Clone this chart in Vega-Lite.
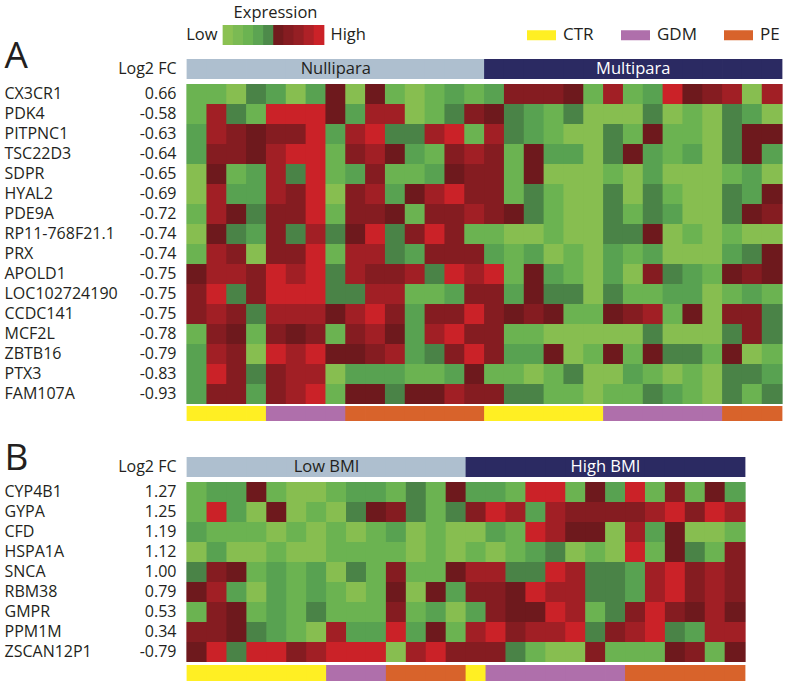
{
"$schema": "https://vega.github.io/schema/vega-lite/v6.json",
"background": "white",
"padding": {"left": 4, "top": 4, "right": 0, "bottom": 0},
"bounds": "flush",
"spacing": 0,
"resolve": {"scale": {"color": "independent"}},
"config": {"view": {"stroke": null}, "axis": {"grid": false}, "font": "Open Sans"},
"datasets": {
"lvl": [{"v":1},{"v":2},{"v":3},{"v":4},{"v":5},{"v":6},{"v":7},{"v":8},{"v":9},{"v":10}],
"colsA": [
{"c":0,"grp":"CTR","par":"Nullipara"},{"c":1,"grp":"CTR","par":"Nullipara"},{"c":2,"grp":"CTR","par":"Nullipara"},{"c":3,"grp":"CTR","par":"Nullipara"},
{"c":4,"grp":"GDM","par":"Nullipara"},{"c":5,"grp":"GDM","par":"Nullipara"},{"c":6,"grp":"GDM","par":"Nullipara"},{"c":7,"grp":"GDM","par":"Nullipara"},
{"c":8,"grp":"PE","par":"Nullipara"},{"c":9,"grp":"PE","par":"Nullipara"},{"c":10,"grp":"PE","par":"Nullipara"},{"c":11,"grp":"PE","par":"Nullipara"},{"c":12,"grp":"PE","par":"Nullipara"},{"c":13,"grp":"PE","par":"Nullipara"},{"c":14,"grp":"PE","par":"Nullipara"},
{"c":15,"grp":"CTR","par":"Multipara"},{"c":16,"grp":"CTR","par":"Multipara"},{"c":17,"grp":"CTR","par":"Multipara"},{"c":18,"grp":"CTR","par":"Multipara"},{"c":19,"grp":"CTR","par":"Multipara"},{"c":20,"grp":"CTR","par":"Multipara"},
{"c":21,"grp":"GDM","par":"Multipara"},{"c":22,"grp":"GDM","par":"Multipara"},{"c":23,"grp":"GDM","par":"Multipara"},{"c":24,"grp":"GDM","par":"Multipara"},{"c":25,"grp":"GDM","par":"Multipara"},{"c":26,"grp":"GDM","par":"Multipara"},
{"c":27,"grp":"PE","par":"Multipara"},{"c":28,"grp":"PE","par":"Multipara"},{"c":29,"grp":"PE","par":"Multipara"}],
"colsB": [
{"c":0,"grp":"CTR","par":"Low BMI"},{"c":1,"grp":"CTR","par":"Low BMI"},{"c":2,"grp":"CTR","par":"Low BMI"},{"c":3,"grp":"CTR","par":"Low BMI"},{"c":4,"grp":"CTR","par":"Low BMI"},{"c":5,"grp":"CTR","par":"Low BMI"},{"c":6,"grp":"CTR","par":"Low BMI"},
{"c":7,"grp":"GDM","par":"Low BMI"},{"c":8,"grp":"GDM","par":"Low BMI"},{"c":9,"grp":"GDM","par":"Low BMI"},
{"c":10,"grp":"PE","par":"Low BMI"},{"c":11,"grp":"PE","par":"Low BMI"},{"c":12,"grp":"PE","par":"Low BMI"},{"c":13,"grp":"PE","par":"Low BMI"},
{"c":14,"grp":"CTR","par":"High BMI"},
{"c":15,"grp":"GDM","par":"High BMI"},{"c":16,"grp":"GDM","par":"High BMI"},{"c":17,"grp":"GDM","par":"High BMI"},{"c":18,"grp":"GDM","par":"High BMI"},{"c":19,"grp":"GDM","par":"High BMI"},{"c":20,"grp":"GDM","par":"High BMI"},{"c":21,"grp":"GDM","par":"High BMI"},
{"c":22,"grp":"PE","par":"High BMI"},{"c":23,"grp":"PE","par":"High BMI"},{"c":24,"grp":"PE","par":"High BMI"},{"c":25,"grp":"PE","par":"High BMI"},{"c":26,"grp":"PE","par":"High BMI"},{"c":27,"grp":"PE","par":"High BMI"}],
"cellsA": [
{"k":"CX3CR1|0.66","c":0,"v":2},{"k":"CX3CR1|0.66","c":1,"v":2},{"k":"CX3CR1|0.66","c":2,"v":1},{"k":"CX3CR1|0.66","c":3,"v":4},{"k":"CX3CR1|0.66","c":4,"v":3},{"k":"CX3CR1|0.66","c":5,"v":1},{"k":"CX3CR1|0.66","c":6,"v":3},{"k":"CX3CR1|0.66","c":7,"v":5},{"k":"CX3CR1|0.66","c":8,"v":1},{"k":"CX3CR1|0.66","c":9,"v":5},{"k":"CX3CR1|0.66","c":10,"v":2},{"k":"CX3CR1|0.66","c":11,"v":1},{"k":"CX3CR1|0.66","c":12,"v":2},{"k":"CX3CR1|0.66","c":13,"v":3},{"k":"CX3CR1|0.66","c":14,"v":2},{"k":"CX3CR1|0.66","c":15,"v":3},{"k":"CX3CR1|0.66","c":16,"v":6},{"k":"CX3CR1|0.66","c":17,"v":6},{"k":"CX3CR1|0.66","c":18,"v":6},{"k":"CX3CR1|0.66","c":19,"v":5},{"k":"CX3CR1|0.66","c":20,"v":2},{"k":"CX3CR1|0.66","c":21,"v":7},{"k":"CX3CR1|0.66","c":22,"v":2},{"k":"CX3CR1|0.66","c":23,"v":3},{"k":"CX3CR1|0.66","c":24,"v":8},{"k":"CX3CR1|0.66","c":25,"v":5},{"k":"CX3CR1|0.66","c":26,"v":6},{"k":"CX3CR1|0.66","c":27,"v":7},{"k":"CX3CR1|0.66","c":28,"v":1},{"k":"CX3CR1|0.66","c":29,"v":7},
{"k":"PDK4|-0.58","c":0,"v":2},{"k":"PDK4|-0.58","c":1,"v":7},{"k":"PDK4|-0.58","c":2,"v":4},{"k":"PDK4|-0.58","c":3,"v":2},{"k":"PDK4|-0.58","c":4,"v":8},{"k":"PDK4|-0.58","c":5,"v":8},{"k":"PDK4|-0.58","c":6,"v":8},{"k":"PDK4|-0.58","c":7,"v":5},{"k":"PDK4|-0.58","c":8,"v":3},{"k":"PDK4|-0.58","c":9,"v":7},{"k":"PDK4|-0.58","c":10,"v":7},{"k":"PDK4|-0.58","c":11,"v":1},{"k":"PDK4|-0.58","c":12,"v":2},{"k":"PDK4|-0.58","c":13,"v":4},{"k":"PDK4|-0.58","c":14,"v":6},{"k":"PDK4|-0.58","c":15,"v":5},{"k":"PDK4|-0.58","c":16,"v":4},{"k":"PDK4|-0.58","c":17,"v":3},{"k":"PDK4|-0.58","c":18,"v":2},{"k":"PDK4|-0.58","c":19,"v":4},{"k":"PDK4|-0.58","c":20,"v":1},{"k":"PDK4|-0.58","c":21,"v":1},{"k":"PDK4|-0.58","c":22,"v":1},{"k":"PDK4|-0.58","c":23,"v":4},{"k":"PDK4|-0.58","c":24,"v":1},{"k":"PDK4|-0.58","c":25,"v":2},{"k":"PDK4|-0.58","c":26,"v":1},{"k":"PDK4|-0.58","c":27,"v":4},{"k":"PDK4|-0.58","c":28,"v":3},{"k":"PDK4|-0.58","c":29,"v":1},
{"k":"PITPNC1|-0.63","c":0,"v":3},{"k":"PITPNC1|-0.63","c":1,"v":7},{"k":"PITPNC1|-0.63","c":2,"v":6},{"k":"PITPNC1|-0.63","c":3,"v":5},{"k":"PITPNC1|-0.63","c":4,"v":6},{"k":"PITPNC1|-0.63","c":5,"v":6},{"k":"PITPNC1|-0.63","c":6,"v":8},{"k":"PITPNC1|-0.63","c":7,"v":3},{"k":"PITPNC1|-0.63","c":8,"v":7},{"k":"PITPNC1|-0.63","c":9,"v":8},{"k":"PITPNC1|-0.63","c":10,"v":4},{"k":"PITPNC1|-0.63","c":11,"v":4},{"k":"PITPNC1|-0.63","c":12,"v":7},{"k":"PITPNC1|-0.63","c":13,"v":8},{"k":"PITPNC1|-0.63","c":14,"v":2},{"k":"PITPNC1|-0.63","c":15,"v":7},{"k":"PITPNC1|-0.63","c":16,"v":4},{"k":"PITPNC1|-0.63","c":17,"v":3},{"k":"PITPNC1|-0.63","c":18,"v":2},{"k":"PITPNC1|-0.63","c":19,"v":1},{"k":"PITPNC1|-0.63","c":20,"v":1},{"k":"PITPNC1|-0.63","c":21,"v":4},{"k":"PITPNC1|-0.63","c":22,"v":2},{"k":"PITPNC1|-0.63","c":23,"v":5},{"k":"PITPNC1|-0.63","c":24,"v":2},{"k":"PITPNC1|-0.63","c":25,"v":2},{"k":"PITPNC1|-0.63","c":26,"v":1},{"k":"PITPNC1|-0.63","c":27,"v":4},{"k":"PITPNC1|-0.63","c":28,"v":5},{"k":"PITPNC1|-0.63","c":29,"v":5},
{"k":"TSC22D3|-0.64","c":0,"v":3},{"k":"TSC22D3|-0.64","c":1,"v":6},{"k":"TSC22D3|-0.64","c":2,"v":6},{"k":"TSC22D3|-0.64","c":3,"v":5},{"k":"TSC22D3|-0.64","c":4,"v":7},{"k":"TSC22D3|-0.64","c":5,"v":8},{"k":"TSC22D3|-0.64","c":6,"v":8},{"k":"TSC22D3|-0.64","c":7,"v":2},{"k":"TSC22D3|-0.64","c":8,"v":6},{"k":"TSC22D3|-0.64","c":9,"v":7},{"k":"TSC22D3|-0.64","c":10,"v":5},{"k":"TSC22D3|-0.64","c":11,"v":3},{"k":"TSC22D3|-0.64","c":12,"v":2},{"k":"TSC22D3|-0.64","c":13,"v":6},{"k":"TSC22D3|-0.64","c":14,"v":7},{"k":"TSC22D3|-0.64","c":15,"v":6},{"k":"TSC22D3|-0.64","c":16,"v":2},{"k":"TSC22D3|-0.64","c":17,"v":5},{"k":"TSC22D3|-0.64","c":18,"v":3},{"k":"TSC22D3|-0.64","c":19,"v":3},{"k":"TSC22D3|-0.64","c":20,"v":1},{"k":"TSC22D3|-0.64","c":21,"v":4},{"k":"TSC22D3|-0.64","c":22,"v":5},{"k":"TSC22D3|-0.64","c":23,"v":3},{"k":"TSC22D3|-0.64","c":24,"v":2},{"k":"TSC22D3|-0.64","c":25,"v":3},{"k":"TSC22D3|-0.64","c":26,"v":1},{"k":"TSC22D3|-0.64","c":27,"v":4},{"k":"TSC22D3|-0.64","c":28,"v":5},{"k":"TSC22D3|-0.64","c":29,"v":3},
{"k":"SDPR|-0.65","c":0,"v":1},{"k":"SDPR|-0.65","c":1,"v":5},{"k":"SDPR|-0.65","c":2,"v":2},{"k":"SDPR|-0.65","c":3,"v":3},{"k":"SDPR|-0.65","c":4,"v":7},{"k":"SDPR|-0.65","c":5,"v":4},{"k":"SDPR|-0.65","c":6,"v":8},{"k":"SDPR|-0.65","c":7,"v":2},{"k":"SDPR|-0.65","c":8,"v":3},{"k":"SDPR|-0.65","c":9,"v":6},{"k":"SDPR|-0.65","c":10,"v":2},{"k":"SDPR|-0.65","c":11,"v":2},{"k":"SDPR|-0.65","c":12,"v":3},{"k":"SDPR|-0.65","c":13,"v":5},{"k":"SDPR|-0.65","c":14,"v":6},{"k":"SDPR|-0.65","c":15,"v":6},{"k":"SDPR|-0.65","c":16,"v":2},{"k":"SDPR|-0.65","c":17,"v":5},{"k":"SDPR|-0.65","c":18,"v":1},{"k":"SDPR|-0.65","c":19,"v":1},{"k":"SDPR|-0.65","c":20,"v":1},{"k":"SDPR|-0.65","c":21,"v":2},{"k":"SDPR|-0.65","c":22,"v":1},{"k":"SDPR|-0.65","c":23,"v":3},{"k":"SDPR|-0.65","c":24,"v":1},{"k":"SDPR|-0.65","c":25,"v":1},{"k":"SDPR|-0.65","c":26,"v":1},{"k":"SDPR|-0.65","c":27,"v":2},{"k":"SDPR|-0.65","c":28,"v":3},{"k":"SDPR|-0.65","c":29,"v":1},
{"k":"HYAL2|-0.69","c":0,"v":1},{"k":"HYAL2|-0.69","c":1,"v":7},{"k":"HYAL2|-0.69","c":2,"v":3},{"k":"HYAL2|-0.69","c":3,"v":3},{"k":"HYAL2|-0.69","c":4,"v":7},{"k":"HYAL2|-0.69","c":5,"v":6},{"k":"HYAL2|-0.69","c":6,"v":8},{"k":"HYAL2|-0.69","c":7,"v":1},{"k":"HYAL2|-0.69","c":8,"v":6},{"k":"HYAL2|-0.69","c":9,"v":7},{"k":"HYAL2|-0.69","c":10,"v":3},{"k":"HYAL2|-0.69","c":11,"v":5},{"k":"HYAL2|-0.69","c":12,"v":7},{"k":"HYAL2|-0.69","c":13,"v":8},{"k":"HYAL2|-0.69","c":14,"v":6},{"k":"HYAL2|-0.69","c":15,"v":6},{"k":"HYAL2|-0.69","c":16,"v":2},{"k":"HYAL2|-0.69","c":17,"v":4},{"k":"HYAL2|-0.69","c":18,"v":2},{"k":"HYAL2|-0.69","c":19,"v":1},{"k":"HYAL2|-0.69","c":20,"v":1},{"k":"HYAL2|-0.69","c":21,"v":4},{"k":"HYAL2|-0.69","c":22,"v":1},{"k":"HYAL2|-0.69","c":23,"v":4},{"k":"HYAL2|-0.69","c":24,"v":2},{"k":"HYAL2|-0.69","c":25,"v":1},{"k":"HYAL2|-0.69","c":26,"v":1},{"k":"HYAL2|-0.69","c":27,"v":4},{"k":"HYAL2|-0.69","c":28,"v":3},{"k":"HYAL2|-0.69","c":29,"v":5},
{"k":"PDE9A|-0.72","c":0,"v":2},{"k":"PDE9A|-0.72","c":1,"v":7},{"k":"PDE9A|-0.72","c":2,"v":5},{"k":"PDE9A|-0.72","c":3,"v":4},{"k":"PDE9A|-0.72","c":4,"v":6},{"k":"PDE9A|-0.72","c":5,"v":6},{"k":"PDE9A|-0.72","c":6,"v":8},{"k":"PDE9A|-0.72","c":7,"v":2},{"k":"PDE9A|-0.72","c":8,"v":6},{"k":"PDE9A|-0.72","c":9,"v":6},{"k":"PDE9A|-0.72","c":10,"v":5},{"k":"PDE9A|-0.72","c":11,"v":2},{"k":"PDE9A|-0.72","c":12,"v":6},{"k":"PDE9A|-0.72","c":13,"v":6},{"k":"PDE9A|-0.72","c":14,"v":7},{"k":"PDE9A|-0.72","c":15,"v":6},{"k":"PDE9A|-0.72","c":16,"v":5},{"k":"PDE9A|-0.72","c":17,"v":4},{"k":"PDE9A|-0.72","c":18,"v":2},{"k":"PDE9A|-0.72","c":19,"v":1},{"k":"PDE9A|-0.72","c":20,"v":1},{"k":"PDE9A|-0.72","c":21,"v":4},{"k":"PDE9A|-0.72","c":22,"v":2},{"k":"PDE9A|-0.72","c":23,"v":4},{"k":"PDE9A|-0.72","c":24,"v":3},{"k":"PDE9A|-0.72","c":25,"v":1},{"k":"PDE9A|-0.72","c":26,"v":1},{"k":"PDE9A|-0.72","c":27,"v":4},{"k":"PDE9A|-0.72","c":28,"v":5},{"k":"PDE9A|-0.72","c":29,"v":6},
{"k":"RP11-768F21.1|-0.74","c":0,"v":1},{"k":"RP11-768F21.1|-0.74","c":1,"v":5},{"k":"RP11-768F21.1|-0.74","c":2,"v":4},{"k":"RP11-768F21.1|-0.74","c":3,"v":3},{"k":"RP11-768F21.1|-0.74","c":4,"v":6},{"k":"RP11-768F21.1|-0.74","c":5,"v":4},{"k":"RP11-768F21.1|-0.74","c":6,"v":7},{"k":"RP11-768F21.1|-0.74","c":7,"v":4},{"k":"RP11-768F21.1|-0.74","c":8,"v":5},{"k":"RP11-768F21.1|-0.74","c":9,"v":8},{"k":"RP11-768F21.1|-0.74","c":10,"v":4},{"k":"RP11-768F21.1|-0.74","c":11,"v":6},{"k":"RP11-768F21.1|-0.74","c":12,"v":8},{"k":"RP11-768F21.1|-0.74","c":13,"v":6},{"k":"RP11-768F21.1|-0.74","c":14,"v":2},{"k":"RP11-768F21.1|-0.74","c":15,"v":2},{"k":"RP11-768F21.1|-0.74","c":16,"v":1},{"k":"RP11-768F21.1|-0.74","c":17,"v":1},{"k":"RP11-768F21.1|-0.74","c":18,"v":2},{"k":"RP11-768F21.1|-0.74","c":19,"v":1},{"k":"RP11-768F21.1|-0.74","c":20,"v":1},{"k":"RP11-768F21.1|-0.74","c":21,"v":4},{"k":"RP11-768F21.1|-0.74","c":22,"v":4},{"k":"RP11-768F21.1|-0.74","c":23,"v":5},{"k":"RP11-768F21.1|-0.74","c":24,"v":1},{"k":"RP11-768F21.1|-0.74","c":25,"v":2},{"k":"RP11-768F21.1|-0.74","c":26,"v":1},{"k":"RP11-768F21.1|-0.74","c":27,"v":2},{"k":"RP11-768F21.1|-0.74","c":28,"v":1},{"k":"RP11-768F21.1|-0.74","c":29,"v":1},
{"k":"PRX|-0.74","c":0,"v":2},{"k":"PRX|-0.74","c":1,"v":7},{"k":"PRX|-0.74","c":2,"v":6},{"k":"PRX|-0.74","c":3,"v":1},{"k":"PRX|-0.74","c":4,"v":6},{"k":"PRX|-0.74","c":5,"v":6},{"k":"PRX|-0.74","c":6,"v":8},{"k":"PRX|-0.74","c":7,"v":2},{"k":"PRX|-0.74","c":8,"v":7},{"k":"PRX|-0.74","c":9,"v":7},{"k":"PRX|-0.74","c":10,"v":4},{"k":"PRX|-0.74","c":11,"v":3},{"k":"PRX|-0.74","c":12,"v":6},{"k":"PRX|-0.74","c":13,"v":6},{"k":"PRX|-0.74","c":14,"v":6},{"k":"PRX|-0.74","c":15,"v":3},{"k":"PRX|-0.74","c":16,"v":2},{"k":"PRX|-0.74","c":17,"v":3},{"k":"PRX|-0.74","c":18,"v":1},{"k":"PRX|-0.74","c":19,"v":2},{"k":"PRX|-0.74","c":20,"v":1},{"k":"PRX|-0.74","c":21,"v":3},{"k":"PRX|-0.74","c":22,"v":2},{"k":"PRX|-0.74","c":23,"v":3},{"k":"PRX|-0.74","c":24,"v":1},{"k":"PRX|-0.74","c":25,"v":1},{"k":"PRX|-0.74","c":26,"v":1},{"k":"PRX|-0.74","c":27,"v":3},{"k":"PRX|-0.74","c":28,"v":4},{"k":"PRX|-0.74","c":29,"v":5},
{"k":"APOLD1|-0.75","c":0,"v":5},{"k":"APOLD1|-0.75","c":1,"v":7},{"k":"APOLD1|-0.75","c":2,"v":7},{"k":"APOLD1|-0.75","c":3,"v":6},{"k":"APOLD1|-0.75","c":4,"v":8},{"k":"APOLD1|-0.75","c":5,"v":7},{"k":"APOLD1|-0.75","c":6,"v":8},{"k":"APOLD1|-0.75","c":7,"v":4},{"k":"APOLD1|-0.75","c":8,"v":7},{"k":"APOLD1|-0.75","c":9,"v":6},{"k":"APOLD1|-0.75","c":10,"v":6},{"k":"APOLD1|-0.75","c":11,"v":7},{"k":"APOLD1|-0.75","c":12,"v":4},{"k":"APOLD1|-0.75","c":13,"v":8},{"k":"APOLD1|-0.75","c":14,"v":7},{"k":"APOLD1|-0.75","c":15,"v":8},{"k":"APOLD1|-0.75","c":16,"v":2},{"k":"APOLD1|-0.75","c":17,"v":5},{"k":"APOLD1|-0.75","c":18,"v":3},{"k":"APOLD1|-0.75","c":19,"v":2},{"k":"APOLD1|-0.75","c":20,"v":1},{"k":"APOLD1|-0.75","c":21,"v":3},{"k":"APOLD1|-0.75","c":22,"v":1},{"k":"APOLD1|-0.75","c":23,"v":6},{"k":"APOLD1|-0.75","c":24,"v":4},{"k":"APOLD1|-0.75","c":25,"v":3},{"k":"APOLD1|-0.75","c":26,"v":2},{"k":"APOLD1|-0.75","c":27,"v":5},{"k":"APOLD1|-0.75","c":28,"v":6},{"k":"APOLD1|-0.75","c":29,"v":5},
{"k":"LOC102724190|-0.75","c":0,"v":6},{"k":"LOC102724190|-0.75","c":1,"v":8},{"k":"LOC102724190|-0.75","c":2,"v":4},{"k":"LOC102724190|-0.75","c":3,"v":6},{"k":"LOC102724190|-0.75","c":4,"v":8},{"k":"LOC102724190|-0.75","c":5,"v":8},{"k":"LOC102724190|-0.75","c":6,"v":8},{"k":"LOC102724190|-0.75","c":7,"v":4},{"k":"LOC102724190|-0.75","c":8,"v":4},{"k":"LOC102724190|-0.75","c":9,"v":7},{"k":"LOC102724190|-0.75","c":10,"v":7},{"k":"LOC102724190|-0.75","c":11,"v":2},{"k":"LOC102724190|-0.75","c":12,"v":2},{"k":"LOC102724190|-0.75","c":13,"v":3},{"k":"LOC102724190|-0.75","c":14,"v":6},{"k":"LOC102724190|-0.75","c":15,"v":6},{"k":"LOC102724190|-0.75","c":16,"v":3},{"k":"LOC102724190|-0.75","c":17,"v":5},{"k":"LOC102724190|-0.75","c":18,"v":4},{"k":"LOC102724190|-0.75","c":19,"v":4},{"k":"LOC102724190|-0.75","c":20,"v":1},{"k":"LOC102724190|-0.75","c":21,"v":4},{"k":"LOC102724190|-0.75","c":22,"v":2},{"k":"LOC102724190|-0.75","c":23,"v":2},{"k":"LOC102724190|-0.75","c":24,"v":3},{"k":"LOC102724190|-0.75","c":25,"v":3},{"k":"LOC102724190|-0.75","c":26,"v":1},{"k":"LOC102724190|-0.75","c":27,"v":2},{"k":"LOC102724190|-0.75","c":28,"v":3},{"k":"LOC102724190|-0.75","c":29,"v":2},
{"k":"CCDC141|-0.75","c":0,"v":6},{"k":"CCDC141|-0.75","c":1,"v":7},{"k":"CCDC141|-0.75","c":2,"v":6},{"k":"CCDC141|-0.75","c":3,"v":4},{"k":"CCDC141|-0.75","c":4,"v":7},{"k":"CCDC141|-0.75","c":5,"v":7},{"k":"CCDC141|-0.75","c":6,"v":7},{"k":"CCDC141|-0.75","c":7,"v":5},{"k":"CCDC141|-0.75","c":8,"v":7},{"k":"CCDC141|-0.75","c":9,"v":8},{"k":"CCDC141|-0.75","c":10,"v":6},{"k":"CCDC141|-0.75","c":11,"v":3},{"k":"CCDC141|-0.75","c":12,"v":6},{"k":"CCDC141|-0.75","c":13,"v":6},{"k":"CCDC141|-0.75","c":14,"v":8},{"k":"CCDC141|-0.75","c":15,"v":6},{"k":"CCDC141|-0.75","c":16,"v":5},{"k":"CCDC141|-0.75","c":17,"v":6},{"k":"CCDC141|-0.75","c":18,"v":5},{"k":"CCDC141|-0.75","c":19,"v":2},{"k":"CCDC141|-0.75","c":20,"v":2},{"k":"CCDC141|-0.75","c":21,"v":5},{"k":"CCDC141|-0.75","c":22,"v":6},{"k":"CCDC141|-0.75","c":23,"v":7},{"k":"CCDC141|-0.75","c":24,"v":2},{"k":"CCDC141|-0.75","c":25,"v":5},{"k":"CCDC141|-0.75","c":26,"v":1},{"k":"CCDC141|-0.75","c":27,"v":6},{"k":"CCDC141|-0.75","c":28,"v":6},{"k":"CCDC141|-0.75","c":29,"v":4},
{"k":"MCF2L|-0.78","c":0,"v":2},{"k":"MCF2L|-0.78","c":1,"v":6},{"k":"MCF2L|-0.78","c":2,"v":5},{"k":"MCF2L|-0.78","c":3,"v":2},{"k":"MCF2L|-0.78","c":4,"v":6},{"k":"MCF2L|-0.78","c":5,"v":5},{"k":"MCF2L|-0.78","c":6,"v":6},{"k":"MCF2L|-0.78","c":7,"v":2},{"k":"MCF2L|-0.78","c":8,"v":6},{"k":"MCF2L|-0.78","c":9,"v":7},{"k":"MCF2L|-0.78","c":10,"v":5},{"k":"MCF2L|-0.78","c":11,"v":3},{"k":"MCF2L|-0.78","c":12,"v":7},{"k":"MCF2L|-0.78","c":13,"v":8},{"k":"MCF2L|-0.78","c":14,"v":6},{"k":"MCF2L|-0.78","c":15,"v":6},{"k":"MCF2L|-0.78","c":16,"v":2},{"k":"MCF2L|-0.78","c":17,"v":2},{"k":"MCF2L|-0.78","c":18,"v":1},{"k":"MCF2L|-0.78","c":19,"v":1},{"k":"MCF2L|-0.78","c":20,"v":1},{"k":"MCF2L|-0.78","c":21,"v":1},{"k":"MCF2L|-0.78","c":22,"v":1},{"k":"MCF2L|-0.78","c":23,"v":4},{"k":"MCF2L|-0.78","c":24,"v":1},{"k":"MCF2L|-0.78","c":25,"v":1},{"k":"MCF2L|-0.78","c":26,"v":1},{"k":"MCF2L|-0.78","c":27,"v":4},{"k":"MCF2L|-0.78","c":28,"v":6},{"k":"MCF2L|-0.78","c":29,"v":4},
{"k":"ZBTB16|-0.79","c":0,"v":3},{"k":"ZBTB16|-0.79","c":1,"v":7},{"k":"ZBTB16|-0.79","c":2,"v":6},{"k":"ZBTB16|-0.79","c":3,"v":1},{"k":"ZBTB16|-0.79","c":4,"v":8},{"k":"ZBTB16|-0.79","c":5,"v":7},{"k":"ZBTB16|-0.79","c":6,"v":8},{"k":"ZBTB16|-0.79","c":7,"v":5},{"k":"ZBTB16|-0.79","c":8,"v":5},{"k":"ZBTB16|-0.79","c":9,"v":6},{"k":"ZBTB16|-0.79","c":10,"v":7},{"k":"ZBTB16|-0.79","c":11,"v":3},{"k":"ZBTB16|-0.79","c":12,"v":4},{"k":"ZBTB16|-0.79","c":13,"v":6},{"k":"ZBTB16|-0.79","c":14,"v":8},{"k":"ZBTB16|-0.79","c":15,"v":6},{"k":"ZBTB16|-0.79","c":16,"v":3},{"k":"ZBTB16|-0.79","c":17,"v":3},{"k":"ZBTB16|-0.79","c":18,"v":5},{"k":"ZBTB16|-0.79","c":19,"v":1},{"k":"ZBTB16|-0.79","c":20,"v":2},{"k":"ZBTB16|-0.79","c":21,"v":5},{"k":"ZBTB16|-0.79","c":22,"v":2},{"k":"ZBTB16|-0.79","c":23,"v":5},{"k":"ZBTB16|-0.79","c":24,"v":4},{"k":"ZBTB16|-0.79","c":25,"v":4},{"k":"ZBTB16|-0.79","c":26,"v":2},{"k":"ZBTB16|-0.79","c":27,"v":5},{"k":"ZBTB16|-0.79","c":28,"v":1},{"k":"ZBTB16|-0.79","c":29,"v":2},
{"k":"PTX3|-0.83","c":0,"v":3},{"k":"PTX3|-0.83","c":1,"v":8},{"k":"PTX3|-0.83","c":2,"v":6},{"k":"PTX3|-0.83","c":3,"v":4},{"k":"PTX3|-0.83","c":4,"v":6},{"k":"PTX3|-0.83","c":5,"v":7},{"k":"PTX3|-0.83","c":6,"v":7},{"k":"PTX3|-0.83","c":7,"v":1},{"k":"PTX3|-0.83","c":8,"v":3},{"k":"PTX3|-0.83","c":9,"v":3},{"k":"PTX3|-0.83","c":10,"v":3},{"k":"PTX3|-0.83","c":11,"v":2},{"k":"PTX3|-0.83","c":12,"v":2},{"k":"PTX3|-0.83","c":13,"v":3},{"k":"PTX3|-0.83","c":14,"v":5},{"k":"PTX3|-0.83","c":15,"v":2},{"k":"PTX3|-0.83","c":16,"v":2},{"k":"PTX3|-0.83","c":17,"v":1},{"k":"PTX3|-0.83","c":18,"v":2},{"k":"PTX3|-0.83","c":19,"v":4},{"k":"PTX3|-0.83","c":20,"v":1},{"k":"PTX3|-0.83","c":21,"v":1},{"k":"PTX3|-0.83","c":22,"v":3},{"k":"PTX3|-0.83","c":23,"v":2},{"k":"PTX3|-0.83","c":24,"v":1},{"k":"PTX3|-0.83","c":25,"v":2},{"k":"PTX3|-0.83","c":26,"v":1},{"k":"PTX3|-0.83","c":27,"v":4},{"k":"PTX3|-0.83","c":28,"v":4},{"k":"PTX3|-0.83","c":29,"v":3},
{"k":"FAM107A|-0.93","c":0,"v":3},{"k":"FAM107A|-0.93","c":1,"v":6},{"k":"FAM107A|-0.93","c":2,"v":6},{"k":"FAM107A|-0.93","c":3,"v":3},{"k":"FAM107A|-0.93","c":4,"v":6},{"k":"FAM107A|-0.93","c":5,"v":7},{"k":"FAM107A|-0.93","c":6,"v":8},{"k":"FAM107A|-0.93","c":7,"v":2},{"k":"FAM107A|-0.93","c":8,"v":5},{"k":"FAM107A|-0.93","c":9,"v":5},{"k":"FAM107A|-0.93","c":10,"v":4},{"k":"FAM107A|-0.93","c":11,"v":5},{"k":"FAM107A|-0.93","c":12,"v":5},{"k":"FAM107A|-0.93","c":13,"v":7},{"k":"FAM107A|-0.93","c":14,"v":6},{"k":"FAM107A|-0.93","c":15,"v":6},{"k":"FAM107A|-0.93","c":16,"v":4},{"k":"FAM107A|-0.93","c":17,"v":4},{"k":"FAM107A|-0.93","c":18,"v":2},{"k":"FAM107A|-0.93","c":19,"v":2},{"k":"FAM107A|-0.93","c":20,"v":1},{"k":"FAM107A|-0.93","c":21,"v":2},{"k":"FAM107A|-0.93","c":22,"v":2},{"k":"FAM107A|-0.93","c":23,"v":4},{"k":"FAM107A|-0.93","c":24,"v":3},{"k":"FAM107A|-0.93","c":25,"v":2},{"k":"FAM107A|-0.93","c":26,"v":1},{"k":"FAM107A|-0.93","c":27,"v":4},{"k":"FAM107A|-0.93","c":28,"v":2},{"k":"FAM107A|-0.93","c":29,"v":4}],
"cellsB": [
{"k":"CYP4B1|1.27","c":0,"v":2},{"k":"CYP4B1|1.27","c":1,"v":3},{"k":"CYP4B1|1.27","c":2,"v":3},{"k":"CYP4B1|1.27","c":3,"v":5},{"k":"CYP4B1|1.27","c":4,"v":2},{"k":"CYP4B1|1.27","c":5,"v":1},{"k":"CYP4B1|1.27","c":6,"v":1},{"k":"CYP4B1|1.27","c":7,"v":2},{"k":"CYP4B1|1.27","c":8,"v":3},{"k":"CYP4B1|1.27","c":9,"v":3},{"k":"CYP4B1|1.27","c":10,"v":2},{"k":"CYP4B1|1.27","c":11,"v":4},{"k":"CYP4B1|1.27","c":12,"v":2},{"k":"CYP4B1|1.27","c":13,"v":5},{"k":"CYP4B1|1.27","c":14,"v":3},{"k":"CYP4B1|1.27","c":15,"v":3},{"k":"CYP4B1|1.27","c":16,"v":2},{"k":"CYP4B1|1.27","c":17,"v":8},{"k":"CYP4B1|1.27","c":18,"v":8},{"k":"CYP4B1|1.27","c":19,"v":2},{"k":"CYP4B1|1.27","c":20,"v":5},{"k":"CYP4B1|1.27","c":21,"v":3},{"k":"CYP4B1|1.27","c":22,"v":8},{"k":"CYP4B1|1.27","c":23,"v":2},{"k":"CYP4B1|1.27","c":24,"v":6},{"k":"CYP4B1|1.27","c":25,"v":2},{"k":"CYP4B1|1.27","c":26,"v":5},{"k":"CYP4B1|1.27","c":27,"v":3},
{"k":"GYPA|1.25","c":0,"v":2},{"k":"GYPA|1.25","c":1,"v":8},{"k":"GYPA|1.25","c":2,"v":3},{"k":"GYPA|1.25","c":3,"v":1},{"k":"GYPA|1.25","c":4,"v":5},{"k":"GYPA|1.25","c":5,"v":1},{"k":"GYPA|1.25","c":6,"v":2},{"k":"GYPA|1.25","c":7,"v":1},{"k":"GYPA|1.25","c":8,"v":4},{"k":"GYPA|1.25","c":9,"v":5},{"k":"GYPA|1.25","c":10,"v":6},{"k":"GYPA|1.25","c":11,"v":4},{"k":"GYPA|1.25","c":12,"v":2},{"k":"GYPA|1.25","c":13,"v":4},{"k":"GYPA|1.25","c":14,"v":6},{"k":"GYPA|1.25","c":15,"v":8},{"k":"GYPA|1.25","c":16,"v":7},{"k":"GYPA|1.25","c":17,"v":3},{"k":"GYPA|1.25","c":18,"v":7},{"k":"GYPA|1.25","c":19,"v":6},{"k":"GYPA|1.25","c":20,"v":6},{"k":"GYPA|1.25","c":21,"v":6},{"k":"GYPA|1.25","c":22,"v":6},{"k":"GYPA|1.25","c":23,"v":7},{"k":"GYPA|1.25","c":24,"v":8},{"k":"GYPA|1.25","c":25,"v":6},{"k":"GYPA|1.25","c":26,"v":8},{"k":"GYPA|1.25","c":27,"v":7},
{"k":"CFD|1.19","c":0,"v":3},{"k":"CFD|1.19","c":1,"v":2},{"k":"CFD|1.19","c":2,"v":2},{"k":"CFD|1.19","c":3,"v":2},{"k":"CFD|1.19","c":4,"v":1},{"k":"CFD|1.19","c":5,"v":2},{"k":"CFD|1.19","c":6,"v":1},{"k":"CFD|1.19","c":7,"v":2},{"k":"CFD|1.19","c":8,"v":1},{"k":"CFD|1.19","c":9,"v":2},{"k":"CFD|1.19","c":10,"v":3},{"k":"CFD|1.19","c":11,"v":1},{"k":"CFD|1.19","c":12,"v":2},{"k":"CFD|1.19","c":13,"v":1},{"k":"CFD|1.19","c":14,"v":1},{"k":"CFD|1.19","c":15,"v":3},{"k":"CFD|1.19","c":16,"v":2},{"k":"CFD|1.19","c":17,"v":8},{"k":"CFD|1.19","c":18,"v":7},{"k":"CFD|1.19","c":19,"v":5},{"k":"CFD|1.19","c":20,"v":5},{"k":"CFD|1.19","c":21,"v":1},{"k":"CFD|1.19","c":22,"v":7},{"k":"CFD|1.19","c":23,"v":3},{"k":"CFD|1.19","c":24,"v":5},{"k":"CFD|1.19","c":25,"v":1},{"k":"CFD|1.19","c":26,"v":1},{"k":"CFD|1.19","c":27,"v":2},
{"k":"HSPA1A|1.12","c":0,"v":1},{"k":"HSPA1A|1.12","c":1,"v":3},{"k":"HSPA1A|1.12","c":2,"v":1},{"k":"HSPA1A|1.12","c":3,"v":1},{"k":"HSPA1A|1.12","c":4,"v":2},{"k":"HSPA1A|1.12","c":5,"v":1},{"k":"HSPA1A|1.12","c":6,"v":1},{"k":"HSPA1A|1.12","c":7,"v":2},{"k":"HSPA1A|1.12","c":8,"v":2},{"k":"HSPA1A|1.12","c":9,"v":2},{"k":"HSPA1A|1.12","c":10,"v":2},{"k":"HSPA1A|1.12","c":11,"v":1},{"k":"HSPA1A|1.12","c":12,"v":2},{"k":"HSPA1A|1.12","c":13,"v":1},{"k":"HSPA1A|1.12","c":14,"v":2},{"k":"HSPA1A|1.12","c":15,"v":1},{"k":"HSPA1A|1.12","c":16,"v":2},{"k":"HSPA1A|1.12","c":17,"v":3},{"k":"HSPA1A|1.12","c":18,"v":4},{"k":"HSPA1A|1.12","c":19,"v":1},{"k":"HSPA1A|1.12","c":20,"v":2},{"k":"HSPA1A|1.12","c":21,"v":1},{"k":"HSPA1A|1.12","c":22,"v":8},{"k":"HSPA1A|1.12","c":23,"v":2},{"k":"HSPA1A|1.12","c":24,"v":5},{"k":"HSPA1A|1.12","c":25,"v":4},{"k":"HSPA1A|1.12","c":26,"v":2},{"k":"HSPA1A|1.12","c":27,"v":6},
{"k":"SNCA|1.00","c":0,"v":4},{"k":"SNCA|1.00","c":1,"v":6},{"k":"SNCA|1.00","c":2,"v":5},{"k":"SNCA|1.00","c":3,"v":2},{"k":"SNCA|1.00","c":4,"v":3},{"k":"SNCA|1.00","c":5,"v":2},{"k":"SNCA|1.00","c":6,"v":3},{"k":"SNCA|1.00","c":7,"v":1},{"k":"SNCA|1.00","c":8,"v":4},{"k":"SNCA|1.00","c":9,"v":2},{"k":"SNCA|1.00","c":10,"v":6},{"k":"SNCA|1.00","c":11,"v":2},{"k":"SNCA|1.00","c":12,"v":2},{"k":"SNCA|1.00","c":13,"v":5},{"k":"SNCA|1.00","c":14,"v":7},{"k":"SNCA|1.00","c":15,"v":7},{"k":"SNCA|1.00","c":16,"v":4},{"k":"SNCA|1.00","c":17,"v":4},{"k":"SNCA|1.00","c":18,"v":8},{"k":"SNCA|1.00","c":19,"v":7},{"k":"SNCA|1.00","c":20,"v":4},{"k":"SNCA|1.00","c":21,"v":4},{"k":"SNCA|1.00","c":22,"v":3},{"k":"SNCA|1.00","c":23,"v":7},{"k":"SNCA|1.00","c":24,"v":8},{"k":"SNCA|1.00","c":25,"v":6},{"k":"SNCA|1.00","c":26,"v":7},{"k":"SNCA|1.00","c":27,"v":6},
{"k":"RBM38|0.79","c":0,"v":5},{"k":"RBM38|0.79","c":1,"v":7},{"k":"RBM38|0.79","c":2,"v":3},{"k":"RBM38|0.79","c":3,"v":1},{"k":"RBM38|0.79","c":4,"v":3},{"k":"RBM38|0.79","c":5,"v":2},{"k":"RBM38|0.79","c":6,"v":3},{"k":"RBM38|0.79","c":7,"v":2},{"k":"RBM38|0.79","c":8,"v":1},{"k":"RBM38|0.79","c":9,"v":2},{"k":"RBM38|0.79","c":10,"v":5},{"k":"RBM38|0.79","c":11,"v":1},{"k":"RBM38|0.79","c":12,"v":5},{"k":"RBM38|0.79","c":13,"v":3},{"k":"RBM38|0.79","c":14,"v":6},{"k":"RBM38|0.79","c":15,"v":6},{"k":"RBM38|0.79","c":16,"v":5},{"k":"RBM38|0.79","c":17,"v":8},{"k":"RBM38|0.79","c":18,"v":7},{"k":"RBM38|0.79","c":19,"v":7},{"k":"RBM38|0.79","c":20,"v":4},{"k":"RBM38|0.79","c":21,"v":4},{"k":"RBM38|0.79","c":22,"v":3},{"k":"RBM38|0.79","c":23,"v":7},{"k":"RBM38|0.79","c":24,"v":8},{"k":"RBM38|0.79","c":25,"v":6},{"k":"RBM38|0.79","c":26,"v":7},{"k":"RBM38|0.79","c":27,"v":6},
{"k":"GMPR|0.53","c":0,"v":2},{"k":"GMPR|0.53","c":1,"v":6},{"k":"GMPR|0.53","c":2,"v":5},{"k":"GMPR|0.53","c":3,"v":2},{"k":"GMPR|0.53","c":4,"v":3},{"k":"GMPR|0.53","c":5,"v":2},{"k":"GMPR|0.53","c":6,"v":4},{"k":"GMPR|0.53","c":7,"v":2},{"k":"GMPR|0.53","c":8,"v":2},{"k":"GMPR|0.53","c":9,"v":2},{"k":"GMPR|0.53","c":10,"v":6},{"k":"GMPR|0.53","c":11,"v":2},{"k":"GMPR|0.53","c":12,"v":3},{"k":"GMPR|0.53","c":13,"v":1},{"k":"GMPR|0.53","c":14,"v":3},{"k":"GMPR|0.53","c":15,"v":6},{"k":"GMPR|0.53","c":16,"v":5},{"k":"GMPR|0.53","c":17,"v":5},{"k":"GMPR|0.53","c":18,"v":8},{"k":"GMPR|0.53","c":19,"v":7},{"k":"GMPR|0.53","c":20,"v":2},{"k":"GMPR|0.53","c":21,"v":4},{"k":"GMPR|0.53","c":22,"v":6},{"k":"GMPR|0.53","c":23,"v":8},{"k":"GMPR|0.53","c":24,"v":6},{"k":"GMPR|0.53","c":25,"v":5},{"k":"GMPR|0.53","c":26,"v":7},{"k":"GMPR|0.53","c":27,"v":5},
{"k":"PPM1M|0.34","c":0,"v":6},{"k":"PPM1M|0.34","c":1,"v":6},{"k":"PPM1M|0.34","c":2,"v":5},{"k":"PPM1M|0.34","c":3,"v":4},{"k":"PPM1M|0.34","c":4,"v":3},{"k":"PPM1M|0.34","c":5,"v":2},{"k":"PPM1M|0.34","c":6,"v":1},{"k":"PPM1M|0.34","c":7,"v":7},{"k":"PPM1M|0.34","c":8,"v":3},{"k":"PPM1M|0.34","c":9,"v":3},{"k":"PPM1M|0.34","c":10,"v":8},{"k":"PPM1M|0.34","c":11,"v":3},{"k":"PPM1M|0.34","c":12,"v":5},{"k":"PPM1M|0.34","c":13,"v":2},{"k":"PPM1M|0.34","c":14,"v":7},{"k":"PPM1M|0.34","c":15,"v":8},{"k":"PPM1M|0.34","c":16,"v":6},{"k":"PPM1M|0.34","c":17,"v":7},{"k":"PPM1M|0.34","c":18,"v":7},{"k":"PPM1M|0.34","c":19,"v":8},{"k":"PPM1M|0.34","c":20,"v":4},{"k":"PPM1M|0.34","c":21,"v":6},{"k":"PPM1M|0.34","c":22,"v":7},{"k":"PPM1M|0.34","c":23,"v":8},{"k":"PPM1M|0.34","c":24,"v":4},{"k":"PPM1M|0.34","c":25,"v":3},{"k":"PPM1M|0.34","c":26,"v":7},{"k":"PPM1M|0.34","c":27,"v":7},
{"k":"ZSCAN12P1|-0.79","c":0,"v":5},{"k":"ZSCAN12P1|-0.79","c":1,"v":8},{"k":"ZSCAN12P1|-0.79","c":2,"v":4},{"k":"ZSCAN12P1|-0.79","c":3,"v":8},{"k":"ZSCAN12P1|-0.79","c":4,"v":8},{"k":"ZSCAN12P1|-0.79","c":5,"v":6},{"k":"ZSCAN12P1|-0.79","c":6,"v":7},{"k":"ZSCAN12P1|-0.79","c":7,"v":8},{"k":"ZSCAN12P1|-0.79","c":8,"v":8},{"k":"ZSCAN12P1|-0.79","c":9,"v":8},{"k":"ZSCAN12P1|-0.79","c":10,"v":1},{"k":"ZSCAN12P1|-0.79","c":11,"v":7},{"k":"ZSCAN12P1|-0.79","c":12,"v":8},{"k":"ZSCAN12P1|-0.79","c":13,"v":6},{"k":"ZSCAN12P1|-0.79","c":14,"v":6},{"k":"ZSCAN12P1|-0.79","c":15,"v":6},{"k":"ZSCAN12P1|-0.79","c":16,"v":4},{"k":"ZSCAN12P1|-0.79","c":17,"v":2},{"k":"ZSCAN12P1|-0.79","c":18,"v":1},{"k":"ZSCAN12P1|-0.79","c":19,"v":1},{"k":"ZSCAN12P1|-0.79","c":20,"v":6},{"k":"ZSCAN12P1|-0.79","c":21,"v":2},{"k":"ZSCAN12P1|-0.79","c":22,"v":2},{"k":"ZSCAN12P1|-0.79","c":23,"v":2},{"k":"ZSCAN12P1|-0.79","c":24,"v":5},{"k":"ZSCAN12P1|-0.79","c":25,"v":6},{"k":"ZSCAN12P1|-0.79","c":26,"v":2},{"k":"ZSCAN12P1|-0.79","c":27,"v":5}]
},
"vconcat": [
{
 "width": 137, "height": 20,
 "data": {"name": "lvl"},
 "title": {"text": "Expression", "font": "Open Sans", "fontSize": 16.5, "fontWeight": "normal", "color": "#231F20", "anchor": "middle", "dx": 20, "offset": -9, "baseline": "alphabetic"},
 "layer": [
  {"mark": {"type": "rect", "width": {"band": 1.04}},
   "encoding": {
    "x": {"field": "v", "type": "ordinal", "scale": {"range": [36, 137], "paddingInner": 0, "paddingOuter": 0}, "axis": null},
    "y": {"datum": "Low", "type": "nominal", "axis": {"orient": "left", "offset": -36, "title": null, "ticks": false, "tickSize": 0, "domain": false, "labelPadding": 6, "labelAlign": "right", "labelBaseline": "middle", "labelFont": "Open Sans", "labelFontSize": 16.5, "labelColor": "#231F20"}},
    "color": {"field": "v", "type": "ordinal", "scale": {"domain": [1,2,3,4,5,6,7,8,9,10], "range": ["#8BC152","#7BBA53","#6BB351","#5CA452","#4D8A4A","#721A1D","#851C21","#951F24","#AE2127","#CB2228"]}, "legend": null}
   }},
  {"mark": {"type": "rect", "width": {"band": 1.04}},
   "encoding": {
    "x": {"field": "v", "type": "ordinal", "axis": null},
    "y": {"datum": "High", "type": "nominal", "axis": {"orient": "right", "title": null, "ticks": false, "tickSize": 0, "domain": false, "labelPadding": 6, "labelAlign": "left", "labelBaseline": "middle", "labelFont": "Open Sans", "labelFontSize": 16.5, "labelColor": "#231F20"}},
    "color": {"field": "v", "type": "ordinal", "legend": null}
   }}
 ],
 "resolve": {"scale": {"y": "independent"}}
},
{
 "width": 595, "height": 39,
 "data": {"name": "colsA"},
 "layer": [
  {"mark": {"type": "rect", "width": {"band": 1.04}},
   "encoding": {
    "x": {"field": "c", "type": "ordinal", "scale": {"paddingInner": 0, "paddingOuter": 0}, "axis": null},
    "y": {"datum": "Log2 FC", "type": "nominal", "scale": {"range": [14, 34], "paddingInner": 0, "paddingOuter": 0},
          "axis": {"orient": "left", "title": "A", "titleAngle": 0, "titleX": -183, "titleY": 22, "titleAlign": "left", "titleBaseline": "alphabetic", "titleFont": "Open Sans", "titleFontSize": 37, "titleFontWeight": "normal", "titleColor": "#231F20",
                   "ticks": false, "tickSize": 0, "domain": false, "labelPadding": 11, "labelAlign": "right", "labelBaseline": "middle", "labelFont": "Open Sans", "labelFontSize": 16, "labelColor": "#231F20"}},
    "fill": {"field": "par", "type": "nominal", "title": null,
             "scale": {"domain": ["CTR","GDM","PE","Nullipara","Multipara","Low BMI","High BMI"], "range": ["#FFEF23","#AF6FAB","#D8632B","#AEBFCF","#2B2A62","#AEBFCF","#2B2A62"]},
             "legend": {"orient": "none", "legendX": 340, "legendY": -4.5, "direction": "horizontal", "title": null, "values": ["CTR","GDM","PE"], "symbolType": "M-1,-0.345H1V0.345H-1Z", "symbolSize": 841, "symbolStrokeWidth": 0, "labelFont": "Open Sans", "labelFontSize": 17, "labelColor": "#231F20", "labelOffset": 7, "columnPadding": 27, "padding": 0}}
   }},
  {"transform": [{"filter": "datum.c == 7 || datum.c == 22"}],
   "mark": {"type": "text", "font": "Open Sans", "fontSize": 16.5, "baseline": "middle"},
   "encoding": {
    "x": {"field": "c", "type": "ordinal"},
    "y": {"datum": "Log2 FC", "type": "nominal"},
    "text": {"field": "par"},
    "color": {"condition": {"test": "datum.par == 'Multipara'", "value": "#FFFFFF"}, "value": "#231F20"}
   }}
 ]
},
{
 "width": 595, "height": 320,
 "data": {"name": "cellsA"},
 "layer": [
  {"mark": {"type": "rect", "width": {"band": 1.04}},
   "encoding": {
    "x": {"field": "c", "type": "ordinal", "scale": {"paddingInner": 0, "paddingOuter": 0}, "axis": null},
    "y": {"field": "k", "type": "ordinal", "sort": null, "scale": {"paddingInner": 0, "paddingOuter": 0},
          "axis": {"orient": "left", "title": null, "ticks": false, "tickSize": 0, "domain": false, "labelPadding": 183, "labelAlign": "left", "labelBaseline": "middle", "labelFont": "Open Sans", "labelFontSize": 16, "labelColor": "#231F20", "labelLimit": 400, "labelOverlap": false, "labelExpr": "split(datum.value, '|')[0]"}},
    "color": {"field": "v", "type": "ordinal", "scale": {"domain": [1,2,3,4,5,6,7,8], "range": ["#87BE50","#6BB351","#58A251","#4A8347","#6E191D","#851C21","#A11F25","#CB2228"]}, "legend": null}
   }},
  {"mark": {"type": "rect", "width": {"band": 1.04}},
   "encoding": {
    "x": {"field": "c", "type": "ordinal", "axis": null},
    "y": {"field": "k", "type": "ordinal", "sort": null,
          "axis": {"orient": "left", "title": null, "ticks": false, "tickSize": 0, "domain": false, "labelPadding": 11, "labelAlign": "right", "labelBaseline": "middle", "labelFont": "Open Sans", "labelFontSize": 16, "labelColor": "#231F20", "labelOverlap": false, "labelExpr": "split(datum.value, '|')[1]"}},
    "color": {"field": "v", "type": "ordinal", "legend": null}
   }}
 ],
 "resolve": {"axis": {"y": "independent"}}
},
{
 "width": 595, "height": 17,
 "data": {"name": "colsA"},
 "mark": {"type": "rect", "width": {"band": 1.04}},
 "encoding": {
  "x": {"field": "c", "type": "ordinal", "scale": {"paddingInner": 0, "paddingOuter": 0}, "axis": null},
  "y": {"datum": "g", "type": "nominal", "scale": {"range": [2, 17], "paddingInner": 0, "paddingOuter": 0}, "axis": null},
  "fill": {"field": "grp", "type": "nominal", "title": null,
           "scale": {"domain": ["CTR","GDM","PE","Nullipara","Multipara","Low BMI","High BMI"], "range": ["#FFEF23","#AF6FAB","#D8632B","#AEBFCF","#2B2A62","#AEBFCF","#2B2A62"]},
           "legend": {"orient": "none", "legendX": 340, "legendY": -4.5, "direction": "horizontal", "title": null, "values": ["CTR","GDM","PE"], "symbolType": "M-1,-0.345H1V0.345H-1Z", "symbolSize": 841, "symbolStrokeWidth": 0, "labelFont": "Open Sans", "labelFontSize": 17, "labelColor": "#231F20", "labelOffset": 7, "columnPadding": 27, "padding": 0}}
 }
},
{
 "width": 558, "height": 61,
 "data": {"name": "colsB"},
 "layer": [
  {"mark": {"type": "rect", "width": {"band": 1.04}},
   "encoding": {
    "x": {"field": "c", "type": "ordinal", "scale": {"paddingInner": 0, "paddingOuter": 0}, "axis": null},
    "y": {"datum": "Log2 FC", "type": "nominal", "scale": {"range": [36, 56], "paddingInner": 0, "paddingOuter": 0},
          "axis": {"orient": "left", "title": "B", "titleAngle": 0, "titleX": -183, "titleY": 48, "titleAlign": "left", "titleBaseline": "alphabetic", "titleFont": "Open Sans", "titleFontSize": 37, "titleFontWeight": "normal", "titleColor": "#231F20",
                   "ticks": false, "tickSize": 0, "domain": false, "labelPadding": 11, "labelAlign": "right", "labelBaseline": "middle", "labelFont": "Open Sans", "labelFontSize": 16, "labelColor": "#231F20"}},
    "fill": {"field": "par", "type": "nominal", "title": null,
             "scale": {"domain": ["CTR","GDM","PE","Nullipara","Multipara","Low BMI","High BMI"], "range": ["#FFEF23","#AF6FAB","#D8632B","#AEBFCF","#2B2A62","#AEBFCF","#2B2A62"]},
             "legend": {"orient": "none", "legendX": 340, "legendY": -4.5, "direction": "horizontal", "title": null, "values": ["CTR","GDM","PE"], "symbolType": "M-1,-0.345H1V0.345H-1Z", "symbolSize": 841, "symbolStrokeWidth": 0, "labelFont": "Open Sans", "labelFontSize": 17, "labelColor": "#231F20", "labelOffset": 7, "columnPadding": 27, "padding": 0}}
   }},
  {"transform": [{"filter": "datum.c == 6 || datum.c == 20"}],
   "mark": {"type": "text", "font": "Open Sans", "fontSize": 16.5, "baseline": "middle"},
   "encoding": {
    "x": {"field": "c", "type": "ordinal", "bandPosition": 1},
    "y": {"datum": "Log2 FC", "type": "nominal"},
    "text": {"field": "par"},
    "color": {"condition": {"test": "datum.par == 'High BMI'", "value": "#FFFFFF"}, "value": "#231F20"}
   }}
 ]
},
{
 "width": 558, "height": 180,
 "data": {"name": "cellsB"},
 "layer": [
  {"mark": {"type": "rect", "width": {"band": 1.04}},
   "encoding": {
    "x": {"field": "c", "type": "ordinal", "scale": {"paddingInner": 0, "paddingOuter": 0}, "axis": null},
    "y": {"field": "k", "type": "ordinal", "sort": null, "scale": {"paddingInner": 0, "paddingOuter": 0},
          "axis": {"orient": "left", "title": null, "ticks": false, "tickSize": 0, "domain": false, "labelPadding": 183, "labelAlign": "left", "labelBaseline": "middle", "labelFont": "Open Sans", "labelFontSize": 16, "labelColor": "#231F20", "labelLimit": 400, "labelOverlap": false, "labelExpr": "split(datum.value, '|')[0]"}},
    "color": {"field": "v", "type": "ordinal", "scale": {"domain": [1,2,3,4,5,6,7,8], "range": ["#87BE50","#6BB351","#58A251","#4A8347","#6E191D","#851C21","#A11F25","#CB2228"]}, "legend": null}
   }},
  {"mark": {"type": "rect", "width": {"band": 1.04}},
   "encoding": {
    "x": {"field": "c", "type": "ordinal", "axis": null},
    "y": {"field": "k", "type": "ordinal", "sort": null,
          "axis": {"orient": "left", "title": null, "ticks": false, "tickSize": 0, "domain": false, "labelPadding": 11, "labelAlign": "right", "labelBaseline": "middle", "labelFont": "Open Sans", "labelFontSize": 16, "labelColor": "#231F20", "labelOverlap": false, "labelExpr": "split(datum.value, '|')[1]"}},
    "color": {"field": "v", "type": "ordinal", "legend": null}
   }}
 ],
 "resolve": {"axis": {"y": "independent"}}
},
{
 "width": 558, "height": 19,
 "data": {"name": "colsB"},
 "mark": {"type": "rect", "width": {"band": 1.04}},
 "encoding": {
  "x": {"field": "c", "type": "ordinal", "scale": {"paddingInner": 0, "paddingOuter": 0}, "axis": null},
  "y": {"datum": "g", "type": "nominal", "scale": {"range": [3, 19], "paddingInner": 0, "paddingOuter": 0}, "axis": null},
  "fill": {"field": "grp", "type": "nominal", "title": null,
           "scale": {"domain": ["CTR","GDM","PE","Nullipara","Multipara","Low BMI","High BMI"], "range": ["#FFEF23","#AF6FAB","#D8632B","#AEBFCF","#2B2A62","#AEBFCF","#2B2A62"]},
           "legend": {"orient": "none", "legendX": 340, "legendY": -4.5, "direction": "horizontal", "title": null, "values": ["CTR","GDM","PE"], "symbolType": "M-1,-0.345H1V0.345H-1Z", "symbolSize": 841, "symbolStrokeWidth": 0, "labelFont": "Open Sans", "labelFontSize": 17, "labelColor": "#231F20", "labelOffset": 7, "columnPadding": 27, "padding": 0}}
 }
}
]
}
